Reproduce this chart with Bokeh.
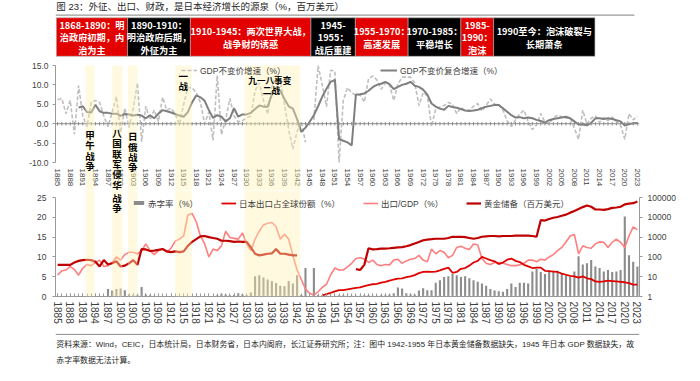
from bokeh.plotting import figure
from bokeh.layouts import column
from bokeh.models import (Range1d, LogAxis, LogScale, FixedTicker, NumeralTickFormatter,
                          BoxAnnotation, Label, Legend, LegendItem, Span)
from bokeh.embed import file_html
from bokeh.resources import INLINE
from bokeh.core.properties import value

NAN = float("nan")
CJK = "Noto Sans CJK SC"
MIX = "Liberation Sans, Noto Sans CJK SC"
NUM = "Liberation Sans"

# ---------------- data ----------------
years = list(range(1885, 2024))
tick_years = years[::3]

# GDP constant-price growth (%)
gdp_growth = [
    6.2, 6.5, 2.6, 6.0, -2.7, 9.8, 2.0, -0.8, 5.5, 6.0,      # 1885-1894
    5.5, 2.0, -0.8, 3.0, 7.0, -2.3, 4.0, -1.0, 4.0, 10.5,    # 1895-1904
    -4.6, 4.5, 1.0, 3.5, 0.6, 6.8, 3.5, 4.0, 2.5, -0.2,      # 1905-1914
    5.0, 9.3, 9.3, 8.0, 5.5, 0.0, 3.0, -4.3, 12.5, -2.8,     # 1915-1924
    1.0, 6.5, 2.0, 0.5, 0.8, 1.5, 2.0, 8.5, 10.5, 6.0,       # 1925-1934
    2.5, 9.5, 12.5, 11.0, 5.0, -1.5, -6.5, -2.0, 0.5, -4.8,  # 1935-1944
    NAN,                                                     # 1945
    1.0, 15.0, 10.0, 4.4, 13.8, 13.5, -10.0, 6.0, 9.3, 8.0,  # 1946-1955
    7.3, 7.4, 5.6, 11.5, 12.3, 11.3, 8.9, 10.5, 10.0, 6.0,   # 1956-1965
    10.2, 12.0, 12.0, 12.0, 10.5, 4.7, 8.0, 7.2, -0.7, 3.9,  # 1966-1975
    4.3, 4.7, 5.5, 5.0, 2.6, 4.2, 3.3, 3.5, 4.5, 5.2,        # 1976-1985
    3.3, 4.7, 6.4, 5.0, 5.0, 3.5, 0.8, -0.7, 1.0, 2.5,       # 1986-1995
    3.5, 0.5, -1.5, -0.3, 2.6, 0.4, 0.0, 1.5, 2.2, 1.8,      # 1996-2005
    1.4, 1.5, -1.2, -4.0, 3.5, -0.1, 1.4, 2.0, 0.3, 1.6,     # 2006-2015
    0.8, 1.7, 0.6, -0.4, -4.0, 2.6, 1.0, 1.9,                # 2016-2023
]

# GDP constant-price compound growth (%)
gdp_cagr = [NAN] * 5 + [
    4.2, 4.5, 3.0, 2.9, 4.9, 3.2, 2.8, 2.8, 2.6, 2.6,        # 1890-1899
    2.0, 2.5, 2.4, 2.1, 2.3, 2.1, 1.4, 2.2, 1.4, 2.6,        # 1900-1909
    3.5, 3.2, 2.9, 2.5, 2.1, 1.8, 3.0, 5.5, 7.3, 6.8,        # 1910-1919
    5.9, 3.5, 1.5, 2.2, 1.8, 0.6, 1.4, 4.0, 1.8, 2.4,        # 1920-1929
    2.4, 2.8, 3.8, 4.7, 4.4, 4.4, 7.5, 9.3, 8.5, 6.4,        # 1930-1939
    4.5, 3.9, 1.2, -2.1, -1.0, 0.5, 2.2, 4.5, 7.0, 9.0,      # 1940-1949
    10.8, 11.3, -4.0, -4.4, -4.8, -5.6, 7.5, 7.6, 7.8, 8.5,  # 1950-1959
    9.4, 10.0, 10.3, 10.8, 10.2, 8.9, 9.5, 10.0, 10.3, 10.8, # 1960-1969
    9.8, 9.5, 8.8, 7.5, 5.2, 4.4, 3.9, 3.6, 4.6, 4.3,        # 1970-1979
    4.1, 3.8, 3.4, 3.3, 3.4, 3.6, 4.0, 4.4, 4.6, 4.8,        # 1980-1989
    4.8, 4.0, 3.1, 2.2, 1.6, 1.7, 1.4, 1.6, 1.4, 1.0,        # 1990-1999
    0.7, 0.3, 0.9, 1.2, 1.4, 1.6, 1.8, 1.4, 0.6, -0.2,       # 2000-2009
    -0.2, -0.4, 0.2, 1.4, 1.4, 1.2, 1.4, 1.2, 0.9, 0.6,      # 2010-2019
    -0.5, -0.1, 0.1, 0.2,                                    # 2020-2023
]

# Fiscal deficit ratio (%)
deficit = [
    0, 0, 0, 0, 0, 0, 0, 0, 0, 0,                            # 1885-1894
    0, 0, 1.9, 1.5, 1.9, 2.0, 1.6, 0.6, 0.4, 0.4,            # 1895-1904
    2.4, 0.5, 0.3, 0.2, 0, 0, 0, 0, 0, 0,                    # 1905-1914
    0, 0, 0, 0, 0, 0, 0, 0, 0.3, 0.7,                        # 1915-1924
    0.5, 0.3, 0.4, 0.8, 0.6, 0.4, 1.0, 5.1, 5.4, 4.8,        # 1925-1934
    4.3, 3.9, 3.4, 2.7, 2.6, 3.9, 3.3, 5.4, 0.4, 7.2,        # 1935-1944
    NAN,                                                     # 1945
    7.2, 0.4, 0.3, 0.2, 0.2, 0.2, 0.3, 0.3, 0.2, 0.2,        # 1946-1955
    0.2, 0.2, 0.3, 0.3, 0.2, 0.2, 0.3, 0.3, 0.5, 0.8,        # 1956-1965
    2.3, 2.0, 0.8, 0.6, 0.5, 1.5, 2.1, 1.6, 1.6, 3.5,        # 1966-1975
    4.1, 4.9, 5.1, 5.7, 5.4, 4.9, 5.1, 4.6, 4.1, 3.7,        # 1976-1985
    3.3, 2.7, 1.9, 1.5, 1.3, 1.2, 1.9, 3.3, 2.4, 3.5,        # 1986-1995
    3.5, 3.3, 6.3, 7.0, 6.2, 5.7, 6.3, 6.5, 6.5, 5.7,        # 1996-2005
    5.4, 4.9, 6.3, 10.2, 8.1, 8.4, 9.2, 7.6, 7.2, 6.3,       # 2006-2015
    6.7, 6.2, 6.3, 6.7, 20.2, 10.4, 8.8, 7.6,                # 2016-2023
]

# Exports / GDP (%)
export_gdp = [
    5.4, 6.5, 6.7, 7.6, 6.8, 5.4, 7.2, 8.1, 7.8, 8.6,        # 1885-1894
    9.2, 7.6, 7.8, 8.6, 10.0, 9.2, 10.6, 11.2, 11.2, 10.8,   # 1895-1904
    11.6, 13.3, 11.6, 10.6, 11.6, 12.0, 11.2, 12.2, 14.0, 14.5,  # 1905-1914
    15.3, 20.6, 21.0, 18.9, 15.3, 13.3, 10.0, 12.0, 11.6, 12.8,  # 1915-1924
    16.5, 14.9, 14.7, 14.5, 16.1, 13.3, 11.6, 14.5, 16.5, 18.1,  # 1925-1934
    18.5, 18.7, 17.7, 14.5, 15.7, 14.5, 10.4, 6.7, 4.3, 1.9,     # 1935-1944
    0.8, 0.3, 1.2, 2.3, 3.1, 5.5, 7.2, 6.7, 6.7, 7.5,        # 1945-1954
    8.4, 9.6, 9.8, 9.5, 8.6, 9.2, 8.1, 7.8, 8.1, 8.0,        # 1955-1964
    9.2, 9.4, 8.4, 9.0, 9.4, 9.6, 10.4, 9.2, 8.8, 12.0,      # 1965-1974
    10.8, 11.6, 11.2, 9.8, 10.4, 12.4, 12.7, 12.2, 11.9, 13.3,   # 1975-1984
    13.0, 9.6, 8.4, 8.1, 8.6, 8.6, 8.4, 8.1, 7.8, 7.8,       # 1985-1994
    8.0, 8.4, 9.2, 9.2, 8.8, 9.4, 9.2, 10.0, 10.6, 11.6,     # 1995-2004
    12.4, 13.8, 15.3, 15.7, 10.8, 12.8, 12.4, 12.2, 13.3, 13.8,  # 2005-2014
    13.7, 12.4, 13.7, 14.5, 13.7, 12.4, 15.3, 17.6, 16.9,    # 2015-2023
]

# Japan's share of world exports (%)
export_share = [NAN] * 63 + [
    0.3, 0.6, 0.9, 1.3, 1.6, 1.6, 1.8, 2.0, 2.2, 2.3,        # 1948-1957
    2.6, 2.9, 3.1, 3.2, 3.5, 3.7, 4.0, 4.3, 4.5, 4.6,        # 1958-1967
    4.9, 5.1, 5.4, 5.9, 6.2, 6.3, 6.2, 6.3, 6.6, 7.0,        # 1968-1977
    7.3, 6.0, 6.2, 7.0, 7.2, 7.8, 8.6, 9.0, 10.0, 9.6,       # 1978-1987
    9.2, 8.9, 8.2, 8.6, 9.3, 9.6, 9.0, 8.7, 8.0, 7.6,        # 1988-1997
    7.2, 7.3, 7.3, 6.5, 6.4, 6.3, 6.2, 5.8, 5.5, 5.2,        # 1998-2007
    5.1, 4.8, 5.1, 4.6, 4.4, 3.8, 3.7, 3.8, 4.0, 3.9,        # 2008-2017
    3.8, 3.7, 3.6, 3.4, 3.0, 3.0,                            # 2018-2023
]

# Gold reserves (million USD), missing 1943-1955
gold = [
    39.8, 39.8, 39.8, 39.8, 52.5, 63.1, 69.2, 72.4, 69.2, 57.5,  # 1885-1894
    33.1, 69.2, 41.7, 47.9, 60.3, 33.1, 36.3, 47.9, 69.2, 39.8,  # 1895-1904
    251, 240, 200, 209, 229, 251, 191, 174, 191, 174,            # 1905-1914
    191, 363, 575, 794, 1096, 1148, 1000, 912, 832, 661,         # 1915-1924
    661, 631, 575, 603, 575, 575, 302, 145, 120, 132,            # 1925-1934
    145, 151, 251, 145, 145, 132, 120, 120,                      # 1935-1942
] + [NAN] * 13 + [
    24.0, 21.9, 39.8, 275, 240, 251, 263, 263, 275, 288,         # 1956-1965
    302, 316, 347, 398, 479, 575, 692, 759, 794, 832,            # 1966-1975
    832, 832, 912, 1047, 1047, 1047, 1000, 912, 832, 912,        # 1976-1985
    1047, 1096, 1148, 1148, 1096, 1148, 1148, 1148, 1202, 1202,  # 1986-1995
    1202, 1202, 1148, 1047, 7244, 6918, 8318, 9550, 10471, 12023,    # 1996-2005
    13804, 17378, 20893, 26303, 33113, 39811, 34674, 25119, 25119, 23988,  # 2006-2015
    26303, 30200, 31623, 34674, 45709, 50119, 52481, 63096,      # 2016-2023
]

for s in (gdp_growth, gdp_cagr, deficit, export_gdp, export_share, gold):
    assert len(s) == len(years), len(s)

# war periods (shaded bands), in years
war_bands = [(1891.6, 1893.8), (1898.0, 1900.4), (1901.7, 1904.0),
             (1913.0, 1916.9), (1929.5, 1942.7)]

title = "图 23：外征、出口、财政，是日本经济增长的源泉（%，百万美元）"
period_labels = ["1868-1890：明\n治政府初期，内\n治为主",
                 "1890-1910：\n明治政府后期，\n外征为主",
                 "1910-1945：两次世界大战，\n战争财的诱惑",
                 "1945-\n1955：\n战后重建",
                 "1955-1970：\n高速发展",
                 "1970-1985：\n平稳增长",
                 "1985-\n1990：\n泡沫",
                 "1990至今：泡沫破裂与\n长期萧条"]
note_lines = ["资料来源：Wind，CEIC，日本统计局，日本财务省，日本内阁府，长江证券研究所；注：图中 1942-1955 年日本黄金储备数据缺失，1945 年日本 GDP 数据缺失，故",
              "赤字率数据无法计算。"]

# ---------------- layout constants ----------------
W = 684
RED = "#E20000"
BAND_COLOR = "#FFF3B0"
AXIS_GREY = "#999999"
TXT = "#404040"

# ---------------- header ----------------
hdr = figure(width=W, height=58, x_range=Range1d(0, W), y_range=Range1d(58, 0),
             x_axis_type=None, y_axis_type=None, min_border=0,
             output_backend="svg", toolbar_location=None)
hdr.grid.visible = False
hdr.outline_line_color = None
hdr.text(x=[1], y=[6.4], text=[title], text_font=value(MIX), text_font_size="9.5px",
         text_color="#262626", text_baseline="middle", text_align="left")
hdr.segment(x0=[0], y0=[14.6], x1=[678], y1=[14.6], line_color="#808080", line_width=1)
box_edges = [1.0, 84.4, 158.0, 299.2, 351.2, 413.0, 474.8, 513.1, 631.8]
box_colors = [RED, "black"] * 4
hdr.quad(left=box_edges[:-1], right=box_edges[1:], top=17.3, bottom=55.8,
         fill_color=box_colors, line_color="#B0B0B0", line_width=0.6)
centers = [(a + b) / 2 for a, b in zip(box_edges[:-1], box_edges[1:])]
hdr.text(x=centers, y=[37.0] * len(centers), text=period_labels, text_align="center",
         text_baseline="middle", text_font=value(CJK), text_font_style="bold",
         text_font_size="9.2px", text_color="white", text_line_height=0.9)

# ---------------- top chart ----------------
# frame runs from the top of the plot area down to the bottom of the year labels
TOP_H = 132
Y_TOP_LOW = -17.2
top = figure(width=W, height=TOP_H, x_range=Range1d(1884.5, 2023.5),
             y_range=Range1d(Y_TOP_LOW, 15),
             output_backend="svg", toolbar_location=None,
             min_border_left=55, min_border_right=45, min_border_top=7, min_border_bottom=0)
top.grid.visible = False
top.outline_line_color = None

ya = top.yaxis[0]
ya.ticker = FixedTicker(ticks=[-10, -5, 0, 5, 10, 15])
ya.bounds = (-10, 15)
ya.formatter = NumeralTickFormatter(format="0.0")
ya.axis_line_color = AXIS_GREY
ya.major_tick_line_color = AXIS_GREY
ya.major_tick_out = 3
ya.major_tick_in = 0
ya.minor_tick_line_color = None
ya.major_label_text_font = NUM
ya.major_label_text_font_size = "8.5px"
ya.major_label_text_color = TXT
ya.major_label_standoff = 4

xa = top.xaxis[0]
xa.ticker = FixedTicker(ticks=tick_years)
xa.major_label_orientation = "vertical"
xa.axis_line_color = None
xa.major_tick_line_color = None
xa.minor_tick_line_color = None
xa.major_tick_out = 0
xa.major_tick_in = 0
xa.major_label_standoff = -22
xa.major_label_text_font = NUM
xa.major_label_text_font_size = "8px"
xa.major_label_text_color = TXT

top.add_layout(Span(location=0, dimension="width", line_color="#8C8C8C", line_width=1))
top.segment(x0=years, y0=[-0.45] * len(years), x1=years, y1=[0.45] * len(years),
            line_color="#8C8C8C", line_width=1)

r_dash = top.line(years, gdp_growth, line_color="#BFBFBF", line_width=1.6, line_dash="4 2")
r_cagr = top.line(years, gdp_cagr, line_color="#7F7F7F", line_width=2)


def add_legend(fig, label, renderers, x, y, glyph_w, glyph_h=12, label_h=12):
    lg = Legend(items=[LegendItem(label=label, renderers=renderers)], location=(x, y),
                orientation="horizontal", glyph_width=glyph_w, glyph_height=glyph_h,
                label_height=label_h, label_standoff=3, padding=0, margin=0, spacing=0,
                background_fill_alpha=0, border_line_alpha=0,
                label_text_font=MIX, label_text_font_size="8.5px", label_text_color=TXT)
    fig.add_layout(lg)
    return lg


add_legend(top, "GDP不变价增速（%）", [r_dash], 126, 114.5, 16)
add_legend(top, "GDP不变价复合增速（%）", [r_cagr], 325, 114.5, 17)

for b0, b1 in war_bands:
    top.add_layout(BoxAnnotation(left=b0, right=b1, top=2, top_units="canvas",
                                 bottom=Y_TOP_LOW, bottom_units="data",
                                 fill_color=BAND_COLOR, fill_alpha=0.4, line_color=None))

ann_style = dict(text_font=CJK, text_font_style="bold", text_font_size="9.5px",
                 text_color="black", text_line_height=0.74)
top.add_layout(Label(x=1892.7, y=-1.1, text="甲\n午\n战\n争", text_align="center",
                     text_baseline="top", **ann_style))
top.add_layout(Label(x=1899.15, y=-0.6, text="八\n国\n联\n军\n侵\n华", text_align="center",
                     text_baseline="top", **ann_style))
top.add_layout(Label(x=1902.9, y=-1.4, text="日\n俄\n战\n争", text_align="center",
                     text_baseline="top", **ann_style))
top.add_layout(Label(x=1914.9, y=14.2, text="一\n战", text_align="center",
                     text_baseline="top", **ann_style))
top.add_layout(Label(x=1935.5, y=11.2, text="九一八事变", text_align="center",
                     text_baseline="middle", text_font=CJK, text_font_style="bold",
                     text_font_size="8.6px", text_color="black"))
top.add_layout(Label(x=1935.9, y=8.75, text="二战", text_align="center",
                     text_baseline="middle", text_font=CJK, text_font_style="bold",
                     text_font_size="8.6px", text_color="black"))

# ---------------- bottom chart ----------------
# frame starts at the very top of this figure (above the 25 tick) so the
# continuing annotation text is not clipped
BOT_H = 143
Y_BOT_HIGH = 26.8
bot = figure(width=W, height=BOT_H, x_range=Range1d(1884.5, 2023.5),
             y_range=Range1d(0, Y_BOT_HIGH),
             output_backend="svg", toolbar_location=None,
             min_border_left=55, min_border_right=45, min_border_top=0, min_border_bottom=37)
bot.grid.visible = False
bot.outline_line_color = None
bot.extra_y_ranges = {"gold": Range1d(1, 10 ** (5 * Y_BOT_HIGH / 25))}
bot.extra_y_scales = {"gold": LogScale()}

yl = bot.yaxis[0]
yl.ticker = FixedTicker(ticks=[0, 5, 10, 15, 20, 25])
yl.bounds = (0, 25)
yl.axis_line_color = AXIS_GREY
yl.major_tick_line_color = AXIS_GREY
yl.major_tick_out = 3
yl.major_tick_in = 0
yl.minor_tick_line_color = None
yl.major_label_text_font = NUM
yl.major_label_text_font_size = "8.5px"
yl.major_label_text_color = TXT
yl.major_label_standoff = 6

yr = LogAxis(y_range_name="gold", ticker=FixedTicker(ticks=[1, 10, 100, 1000, 10000, 100000]),
             formatter=NumeralTickFormatter(format="0"), bounds=(1, 100000))
yr.axis_line_color = AXIS_GREY
yr.major_tick_line_color = AXIS_GREY
yr.major_tick_out = 3
yr.major_tick_in = 0
yr.minor_tick_line_color = None
yr.major_label_text_font = NUM
yr.major_label_text_font_size = "8.5px"
yr.major_label_text_color = TXT
yr.major_label_standoff = 5
bot.add_layout(yr, "right")

xb = bot.xaxis[0]
xb.ticker = FixedTicker(ticks=tick_years, minor_ticks=years)
xb.major_label_orientation = "vertical"
xb.axis_line_color = AXIS_GREY
xb.major_tick_line_color = AXIS_GREY
xb.minor_tick_line_color = AXIS_GREY
xb.major_tick_in = 3
xb.major_tick_out = 0
xb.minor_tick_in = 3
xb.minor_tick_out = 0
xb.major_label_standoff = 5
xb.major_label_text_font = NUM
xb.major_label_text_font_size = "10px"
xb.major_label_text_color = TXT

r_bar = bot.vbar(x=years, top=deficit, width=0.5, fill_color="#8C8C8C", line_color=None)
r_exgdp = bot.line(years, export_gdp, line_color="#FF7F7F", line_width=1.6)
r_share = bot.line(years, export_share, line_color="#E00000", line_width=1.8)
r_gold = bot.line(years, gold, line_color="#C00000", line_width=2.2, y_range_name="gold")

add_legend(bot, "赤字率（%）", [r_bar], 77, 87.5, 13, glyph_h=5, label_h=5)
add_legend(bot, "日本出口占全球份额（%）", [r_share], 166, 87.5, 15)
add_legend(bot, "出口/GDP（%）", [r_exgdp], 308, 87.5, 15)
add_legend(bot, "黄金储备（百万美元）", [r_gold], 411, 87.5, 15)

for b0, b1 in war_bands:
    bot.add_layout(BoxAnnotation(left=b0, right=b1, top=Y_BOT_HIGH, bottom=0,
                                 fill_color=BAND_COLOR, fill_alpha=0.4, line_color=None))
bot.add_layout(Label(x=1899.15, y=26.67, text="战\n争", text_align="center",
                     text_baseline="top", **ann_style))

# ---------------- footer ----------------
FT_H = 32
ftr = figure(width=W, height=FT_H, x_range=Range1d(0, W), y_range=Range1d(FT_H, 0),
             x_axis_type=None, y_axis_type=None, min_border=0,
             output_backend="svg", toolbar_location=None)
ftr.grid.visible = False
ftr.outline_line_color = None
ftr.segment(x0=[0], y0=[0.8], x1=[W], y1=[0.8], line_color="#808080", line_width=1)
ftr.text(x=[1, 1], y=[11.0, 26.5], text=note_lines, text_font=value(MIX),
         text_font_size="7.9px", text_color="#262626", text_baseline="middle")

layout = column(hdr, top, bot, ftr, spacing=0)
open("out.html", "w").write(file_html(layout, INLINE))
